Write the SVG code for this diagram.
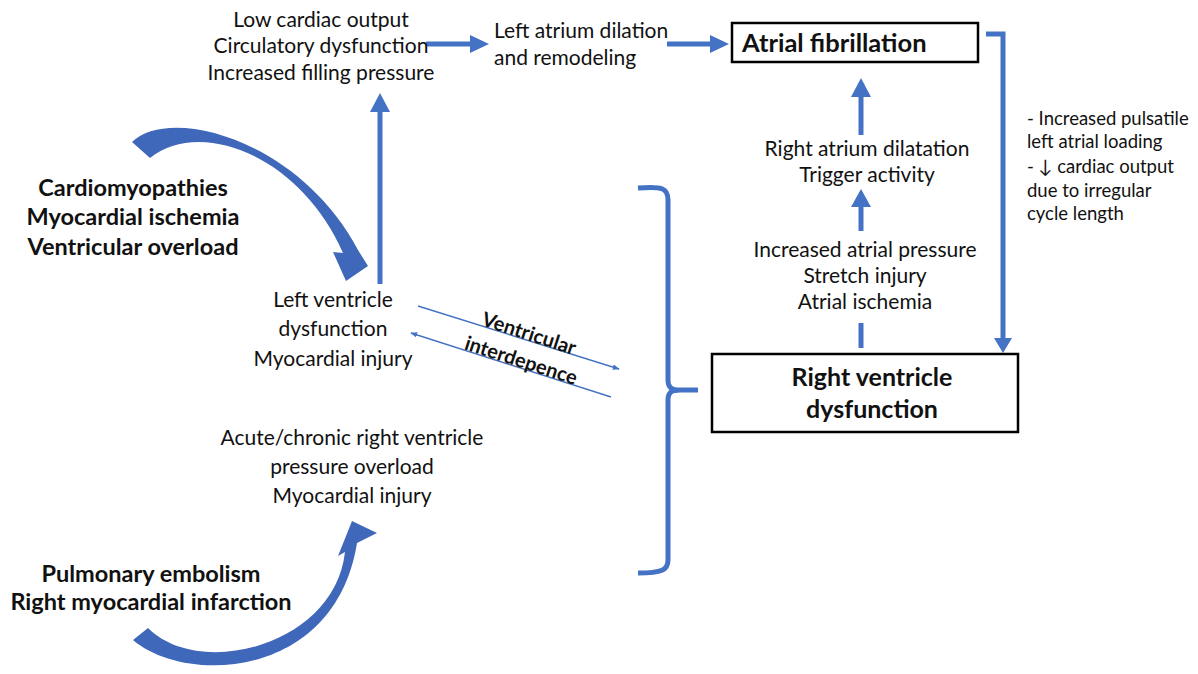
<svg xmlns="http://www.w3.org/2000/svg" width="1198" height="674" viewBox="0 0 1198 674">
<defs>
<style>
text{font-family:Lato,"Liberation Sans",sans-serif;fill:#111}
.n{font-size:21px}
.b{font-size:23.5px;font-weight:bold}
.s{font-size:18.5px}
.c{text-anchor:middle}
.ln{stroke:#4472C4;stroke-width:5;fill:none}
.thin{stroke:#4472C4;stroke-width:1.4;fill:none}
.box{fill:#fff;stroke:#000;stroke-width:2.5}
.head{fill:#4472C4}
.curve{fill:#4068BA}
</style>
<marker id="sm" viewBox="0 0 10 10" refX="9" refY="5" markerWidth="7" markerHeight="7" orient="auto" markerUnits="userSpaceOnUse">
<path d="M0,1 L10,5 L0,9 Z" fill="#4472C4"/>
</marker>
</defs>
<rect width="1198" height="674" fill="#fff"/>

<g id="connectors">
<line class="ln" x1="426" y1="44" x2="472" y2="44"/>
<path class="head" d="M470,35 L489,44 L470,53 Z"/>
<line class="ln" x1="667" y1="44" x2="712" y2="44"/>
<path class="head" d="M710,35 L729,44 L710,53 Z"/>
<path class="ln" d="M986,34 L1003,34 L1003,340"/>
<path class="head" d="M994,338 L1012,338 L1003,353 Z"/>
<line class="ln" x1="861" y1="96" x2="861" y2="135"/>
<path class="head" d="M851,97 L871,97 L861,78 Z"/>
<line class="ln" x1="861" y1="205" x2="861" y2="231"/>
<path class="head" d="M851,207 L871,207 L861,189 Z"/>
<line class="ln" x1="861" y1="323" x2="861" y2="348"/>
<line class="ln" x1="380" y1="110" x2="380" y2="284"/>
<path class="head" d="M370,112 L390,112 L380,93 Z"/>
<line class="thin" x1="418" y1="306" x2="619" y2="369" marker-end="url(#sm)"/>
<line class="thin" x1="611" y1="397" x2="411" y2="333" marker-end="url(#sm)"/>
<path class="ln" d="M638,188 C662,186 668,188 668,200 L668,380 C668,388 672,390 680,390 L698,390 M680,390 C672,390 668,392 668,400 L668,560 C668,570 662,573 638,573"/>
<path class="curve" d="M132,142 C170,105 300,140 358,250 L368,266 L346,281 L333,252 L343,253 C300,155 200,118 150,158 Z"/>
<path class="curve" d="M133,640 C185,685 335,680 357,543 L377,533 L352,521 L338,556 L345,552 C335,645 200,680 148,628 Z"/>
</g>

<g id="low-output">
<text class="n c" x="321" y="27">Low cardiac output</text>
<text class="n c" x="321" y="53">Circulatory dysfunction</text>
<text class="n c" x="321" y="80">Increased filling pressure</text>
</g>

<g id="la-dilation">
<text class="n" x="494" y="38">Left atrium dilation</text>
<text class="n" x="494" y="65">and remodeling</text>
</g>

<g id="af">
<rect class="box" x="732" y="23" width="246" height="39"/>
<text x="742" y="52" style="font-size:25.5px;font-weight:bold">Atrial fibrillation</text>
</g>

<g id="af-note">
<text class="s" x="1027" y="125">- Increased pulsatile</text>
<text class="s" x="1027" y="148">left atrial loading</text>
<text class="s" x="1027" y="173">- ↓ cardiac output</text>
<text class="s" x="1027" y="197">due to irregular</text>
<text class="s" x="1027" y="220">cycle length</text>
</g>

<g id="ra-dilation">
<text class="n c" x="867" y="156">Right atrium dilatation</text>
<text class="n c" x="867" y="182">Trigger activity</text>
</g>

<g id="atrial-pressure">
<text class="n c" x="865" y="257">Increased atrial pressure</text>
<text class="n c" x="865" y="283">Stretch injury</text>
<text class="n c" x="865" y="309">Atrial ischemia</text>
</g>

<g id="rv">
<rect class="box" x="712" y="354" width="306" height="78"/>
<text class="c" x="872" y="386" style="font-size:25px;font-weight:bold">Right ventricle</text>
<text class="c" x="872" y="418" style="font-size:25px;font-weight:bold">dysfunction</text>
</g>

<g id="causes-lv">
<text class="b c" x="133" y="196">Cardiomyopathies</text>
<text class="b c" x="133" y="225">Myocardial ischemia</text>
<text class="b c" x="133" y="255">Ventricular overload</text>
</g>

<g id="lv">
<text class="n c" x="333" y="307">Left ventricle</text>
<text class="n c" x="333" y="336">dysfunction</text>
<text class="n c" x="333" y="366">Myocardial injury</text>
</g>

<g id="interdependence">
<text class="c" transform="translate(527,340) rotate(18)" style="font-size:20px;font-weight:bold">Ventricular</text>
<text class="c" transform="translate(519,367) rotate(18)" style="font-size:20px;font-weight:bold">interdepence</text>
</g>

<g id="rv-overload">
<text class="n c" x="352" y="445">Acute/chronic right ventricle</text>
<text class="n c" x="352" y="474">pressure overload</text>
<text class="n c" x="352" y="503">Myocardial injury</text>
</g>

<g id="causes-rv">
<text class="b c" x="151" y="582">Pulmonary embolism</text>
<text class="b c" x="151" y="610">Right myocardial infarction</text>
</g>
</svg>
